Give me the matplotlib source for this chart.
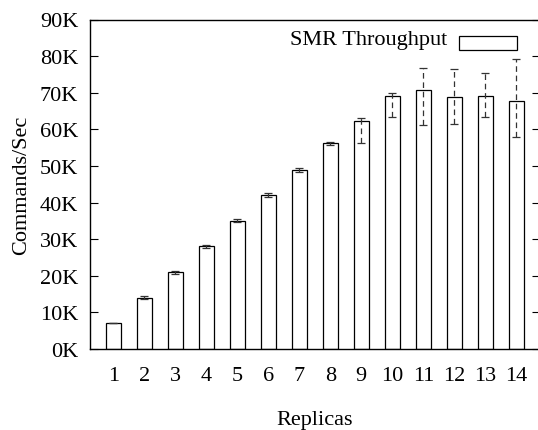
import numpy as np
import matplotlib
matplotlib.use('Agg')
import matplotlib.pyplot as plt
from matplotlib.ticker import FuncFormatter

# Throughput per replica count (commands/sec)
replicas = [1, 2, 3, 4, 5, 6, 7, 8, 9, 10, 11, 12, 13, 14]
throughput = [7000, 14000, 21000, 28000, 35000, 42100, 48900, 56200,
              62300, 69000, 70800, 68700, 69200, 67700]
low = [7000, 13600, 20600, 27600, 34600, 41600, 48400, 55700,
       56300, 63500, 61200, 61500, 63400, 57900]
high = [7000, 14400, 21400, 28400, 35400, 42600, 49400, 56600,
        63100, 70000, 76800, 76500, 75400, 79200]

plt.rcParams['font.family'] = 'Liberation Serif'
plt.rcParams['font.size'] = 16

fig = plt.figure(figsize=(5.38, 4.31), dpi=100)
ax = fig.add_axes([90/538, 1-350/431, 449.6/538, 329.5/431])

ax.bar(replicas, throughput, width=0.5, color='white', edgecolor='black',
       linewidth=0.9, label='SMR Throughput', zorder=2)

t = np.array(throughput)
yerr = [t - np.array(low), np.array(high) - t]
eb = ax.errorbar(replicas, throughput, yerr=yerr, fmt='none', ecolor='#333333',
                 elinewidth=0.9, capsize=2.6, capthick=0.9, zorder=3)
eb[2][0].set_linestyle((0, (4.5, 3.0)))

ax.set_xlim(0.25, 14.75)
ax.set_ylim(0, 90000)
ax.set_xticks(replicas)
ax.set_yticks(np.arange(0, 90001, 10000))
ax.yaxis.set_major_formatter(FuncFormatter(lambda v, p: f'{int(v/1000)}K'))

ax.tick_params(axis='y', direction='in', length=5.8, width=0.8, pad=8.5,
               right=True)
ax.tick_params(axis='x', direction='in', length=5.5, width=0.8, pad=12.5,
               top=False)
for s in ax.spines.values():
    s.set_linewidth(1.0)

ax.set_xlabel('Replicas', labelpad=18)
ax.set_ylabel('Commands/Sec', labelpad=6)

leg = ax.legend(loc='upper right', bbox_to_anchor=(0.95, 0.971), frameon=False,
                markerfirst=False, handlelength=2.6, handleheight=0.6,
                handletextpad=0.55, borderpad=0, borderaxespad=0)
# gnuplot draws the key sample a bit below the text centre
h = leg.legend_handles[0]
h.set_y(h.get_y() - 5)

fig.savefig('out.png', dpi=100)
